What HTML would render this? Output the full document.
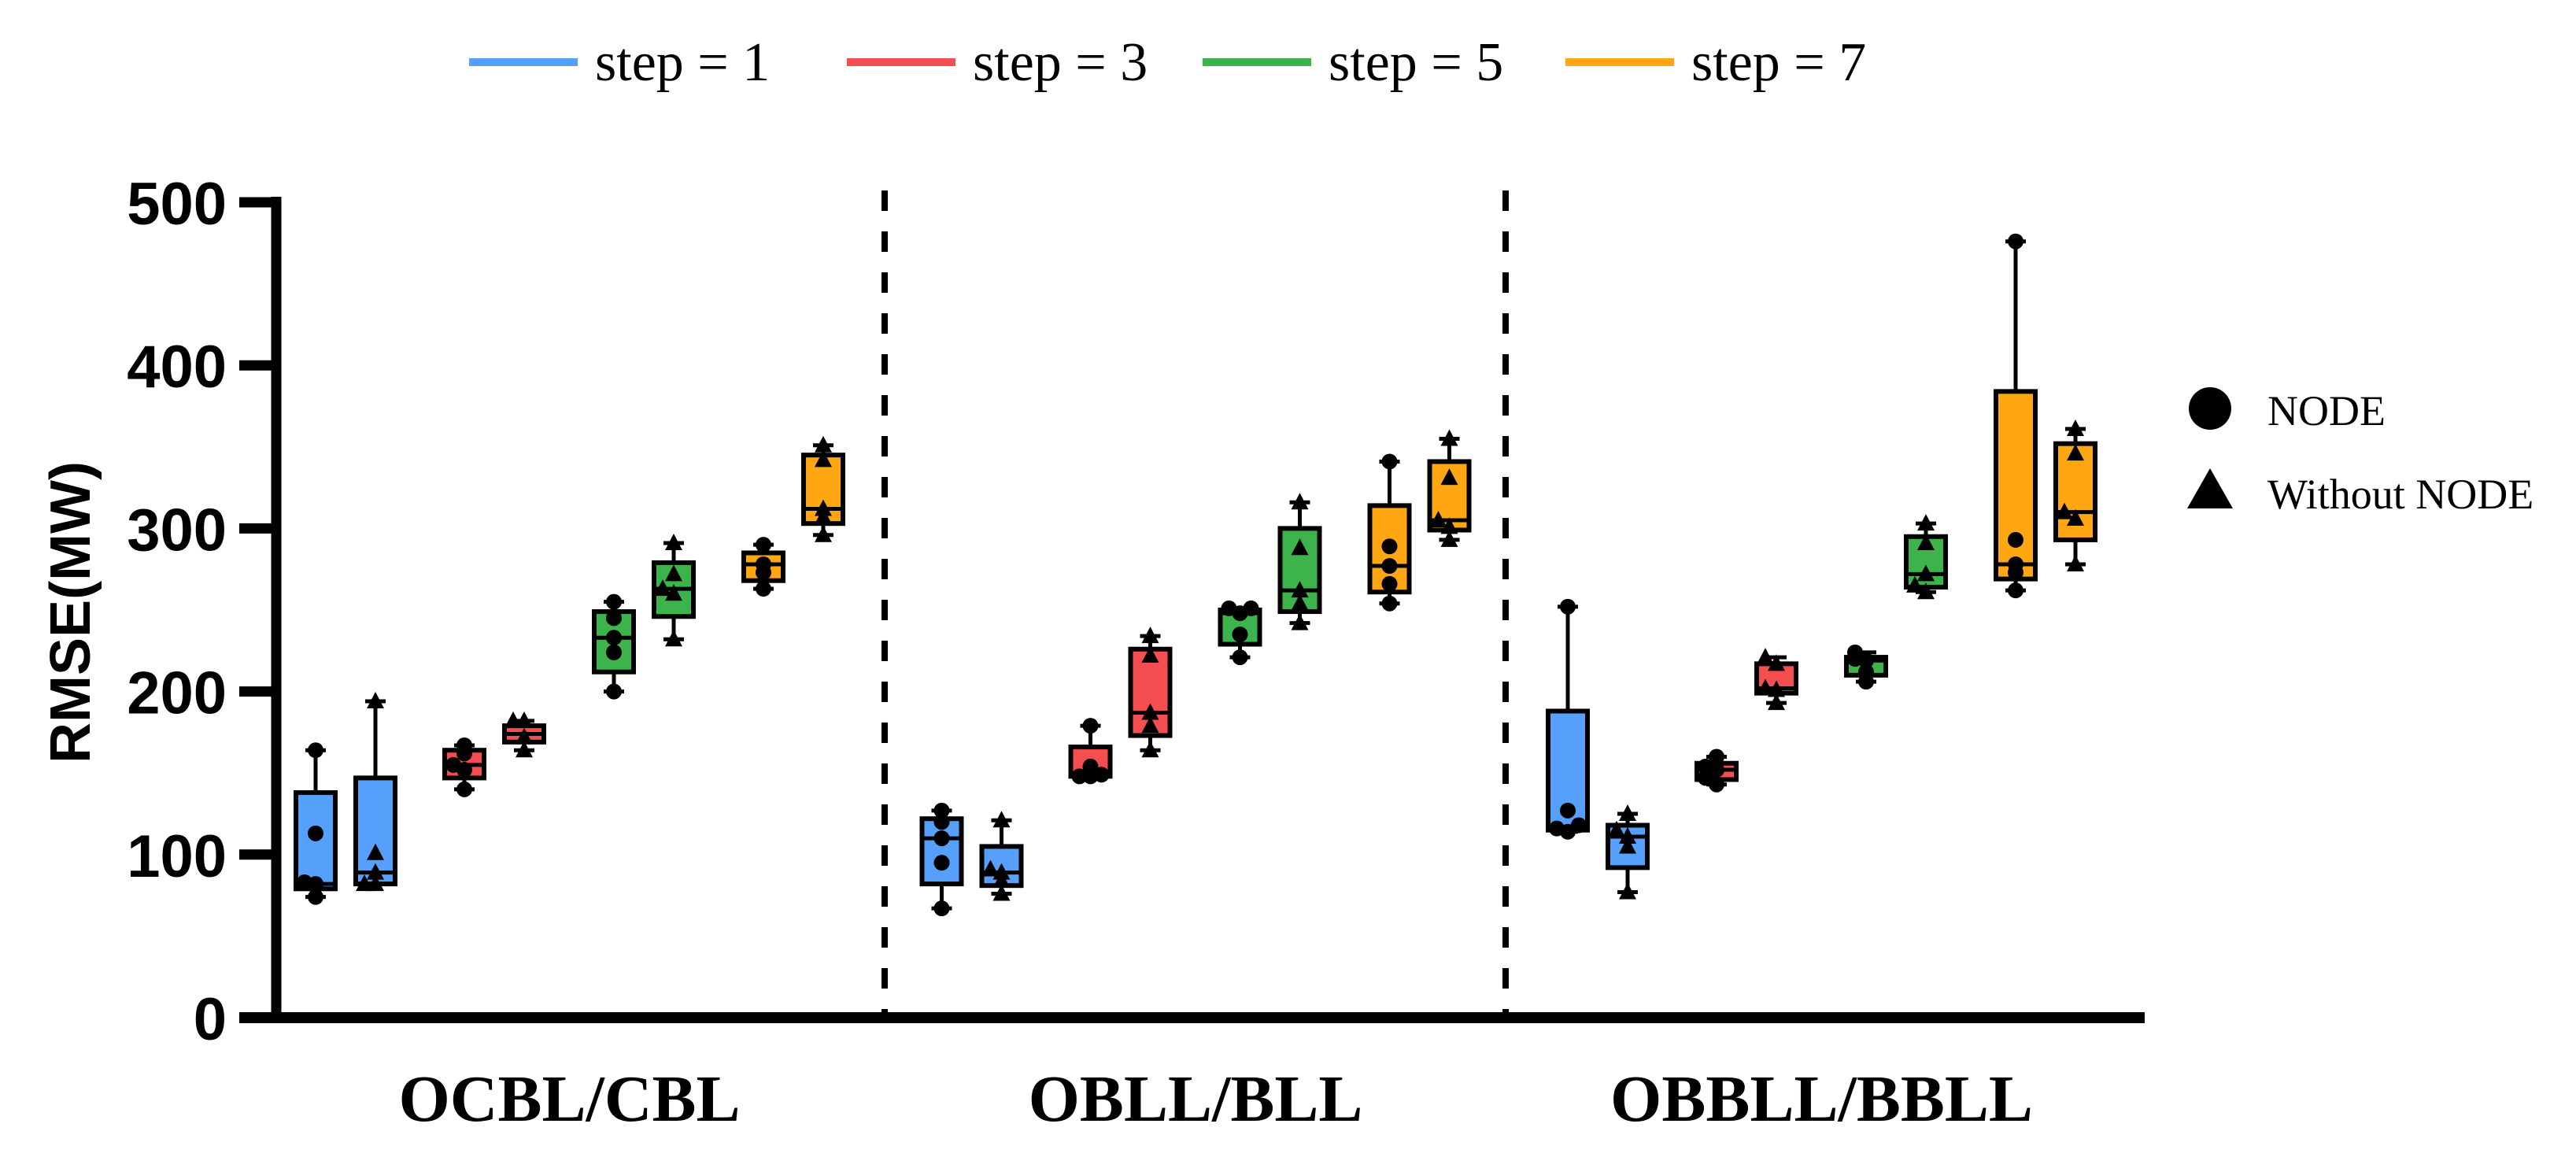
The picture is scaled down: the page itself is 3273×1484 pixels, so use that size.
<!DOCTYPE html>
<html><head><meta charset="utf-8"><style>
html,body{margin:0;padding:0;background:#fff;}
svg{display:block;}
</style></head><body>
<svg id="chart" width="3273" height="1484" viewBox="0 0 3273 1484" xmlns="http://www.w3.org/2000/svg">
<g id="legend-top"></g>
<g id="axes"></g>
<g id="plot"></g>
<g id="legend-right">
  <circle cx="2808" cy="519" r="27" fill="#000"/>
  <text x="2881" y="540" font-family="Liberation Serif, serif" font-size="54" fill="#000">NODE</text>
  <polygon points="2808,595 2837,646 2779,646" fill="#000"/>
  <text x="2881" y="646" font-family="Liberation Serif, serif" font-size="54" fill="#000">Without NODE</text>
</g>
</svg>
<script>
const groups = ["OCBL/CBL","OBLL/BLL","OBBLL/BBLL"];
const stepLabels = ["step = 1","step = 3","step = 5","step = 7"];
const stepColors = ["#56A0FB","#F44E50","#3DB34B","#FFA712"];
const yTicks = [0,100,200,300,400,500];
// box stats per box [min, q1, median, q3, max]; order per group: s1 NODE, s1 w/o, s3 NODE, s3 w/o, s5 NODE, s5 w/o, s7 NODE, s7 w/o
const boxStats = [
 [74,79,82,138,164],[82,82,89,147,194],[140,147,155,164,167],[164,169,174,179,182],
 [200,212,233,249,255],[232,246,263,279,291],[263,268,278,285,290],[296,303,312,345,351],
 [67,82,110,122,127],[76,81,89,105,121],[148,148,149,166,179],[164,173,187,226,234],
 [221,229,248,250,251],[242,249,262,300,316],[254,261,277,314,341],[293,299,305,341,355],
 [114,115,116,188,252],[77,92,111,118,125],[143,146,152,156,160],[193,199,202,217,221],
 [206,210,219,221,224],[261,264,272,295,303],[262,269,278,384,476],[278,293,310,352,361]
];
const boxPoints = [
 [74,82,83,113,164],[82,82,89,101,194],[140,152,155,162,167],[164,172,182,182],
 [200,224,233,245,255],[232,260,263,272,291],[263,273,278,290],[296,307,312,342,351],
 [67,95,110,120,127],[76,84,89,91,121],[148,148,149,154,179],[164,179,187,222,234],
 [221,235,248,251,251],[242,254,262,288,316],[254,266,277,289,341],[293,301,305,331,355],
 [114,116,118,127,252],[77,105,111,115,125],[143,147,152,154,160],[193,201,202,217,221],
 [206,212,219,220,224],[261,265,272,291,303],[262,273,278,293,476],[278,306,310,346,361]
];

const NS="http://www.w3.org/2000/svg";
function mk(tag, attrs, parent){const e=document.createElementNS(NS,tag);for(const k in attrs)e.setAttribute(k,attrs[k]);parent.appendChild(e);return e;}
const y0=1293, pxPer=207.2/100;
function yScale(v){return y0 - v*pxPer;}
const slotOffsets=[0,76,189,265,379,455,569,645];
function xScale(g,i){return 401 + g*795.5 + slotOffsets[i];}

// top legend
const lt=document.getElementById('legend-top');
const legX=[596,1076,1528,1989];
stepLabels.forEach((s,i)=>{
  const ln=mk('rect',{x:legX[i],y:74,width:138,height:10,fill:stepColors[i]},lt);
  
  
  const t=mk('text',{x:legX[i]+160,y:102,'font-family':'Liberation Serif, serif','font-size':70,fill:'#000'},lt);
  t.textContent=s;
  
  
});

// axes
const ax=document.getElementById('axes');
const yl=mk('line',{x1:351,y1:250,x2:351,y2:1300,stroke:'#000','stroke-width':13},ax);


const xl=mk('line',{x1:304,y1:y0,x2:2725,y2:y0,stroke:'#000','stroke-width':14},ax);


yTicks.forEach(v=>{
  const tk=mk('line',{x1:304,y1:yScale(v),x2:351,y2:yScale(v),stroke:'#000','stroke-width':13},ax);
  
  
  const t=mk('text',{x:288,y:yScale(v)+28,'text-anchor':'end','font-family':'Liberation Sans, sans-serif','font-weight':'bold','font-size':76,fill:'#000'},ax);
  t.textContent=v;
  
  
});
const yt=mk('text',{x:0,y:0,transform:'translate(114,778) rotate(-90)','text-anchor':'middle','font-family':'Liberation Sans, sans-serif','font-weight':'bold','font-size':72,fill:'#000'},ax);
yt.textContent='RMSE(MW)';


[1124,1913].forEach((x,i)=>{
  const d=mk('line',{x1:x,y1:242,x2:x,y2:y0,stroke:'#000','stroke-width':8,'stroke-dasharray':'26 26'},ax);
  
  
});
groups.forEach((g,i)=>{
  const cx=(xScale(i,0)+xScale(i,7))/2;
  const t=mk('text',{x:cx,y:1424,'text-anchor':'middle','font-family':'Liberation Serif, serif','font-weight':'bold','font-size':84,fill:'#000'},ax);
  t.textContent=g;
  
  
});

// boxes
const plot=document.getElementById('plot');
const bw=50, cw=26, sw=5;
boxStats.forEach((st,k)=>{
  const g=Math.floor(k/8), i=k%8, cx=xScale(g,i);
  const color=stepColors[Math.floor(i/2)];
  const tri=(i%2)===1;
  const grp=mk('g',{},plot);
  
  
  const [mn,q1,md,q3,mx]=st;
  mk('line',{x1:cx,y1:yScale(mx),x2:cx,y2:yScale(q3),stroke:'#000','stroke-width':sw},grp);
  mk('line',{x1:cx,y1:yScale(q1),x2:cx,y2:yScale(mn),stroke:'#000','stroke-width':sw},grp);
  mk('line',{x1:cx-cw/2,y1:yScale(mx),x2:cx+cw/2,y2:yScale(mx),stroke:'#000','stroke-width':sw},grp);
  mk('line',{x1:cx-cw/2,y1:yScale(mn),x2:cx+cw/2,y2:yScale(mn),stroke:'#000','stroke-width':sw},grp);
  mk('rect',{x:cx-bw/2,y:yScale(q3),width:bw,height:Math.max(yScale(q1)-yScale(q3),2),fill:color,stroke:'#000','stroke-width':6},grp);
  mk('line',{x1:cx-bw/2,y1:yScale(md),x2:cx+bw/2,y2:yScale(md),stroke:'#000','stroke-width':sw},grp);
  const pts=boxPoints[k]; const used=[];
  pts.forEach((v,j)=>{
    let off=0; const near=used.filter(u=>Math.abs(u-v)<5).length;
    if(near===1)off=-14; else if(near===2)off=14;
    used.push(v);
    const px=cx+off, py=yScale(v);
    if(tri){
      const p=mk('polygon',{points:`${px},${py-12} ${px+11},${py+9} ${px-11},${py+9}`,fill:'#000'},grp);
      
      
    } else {
      const c=mk('circle',{cx:px,cy:py,r:10,fill:'#000'},grp);
      
      
    }
  });
});
</script>
</body></html>
